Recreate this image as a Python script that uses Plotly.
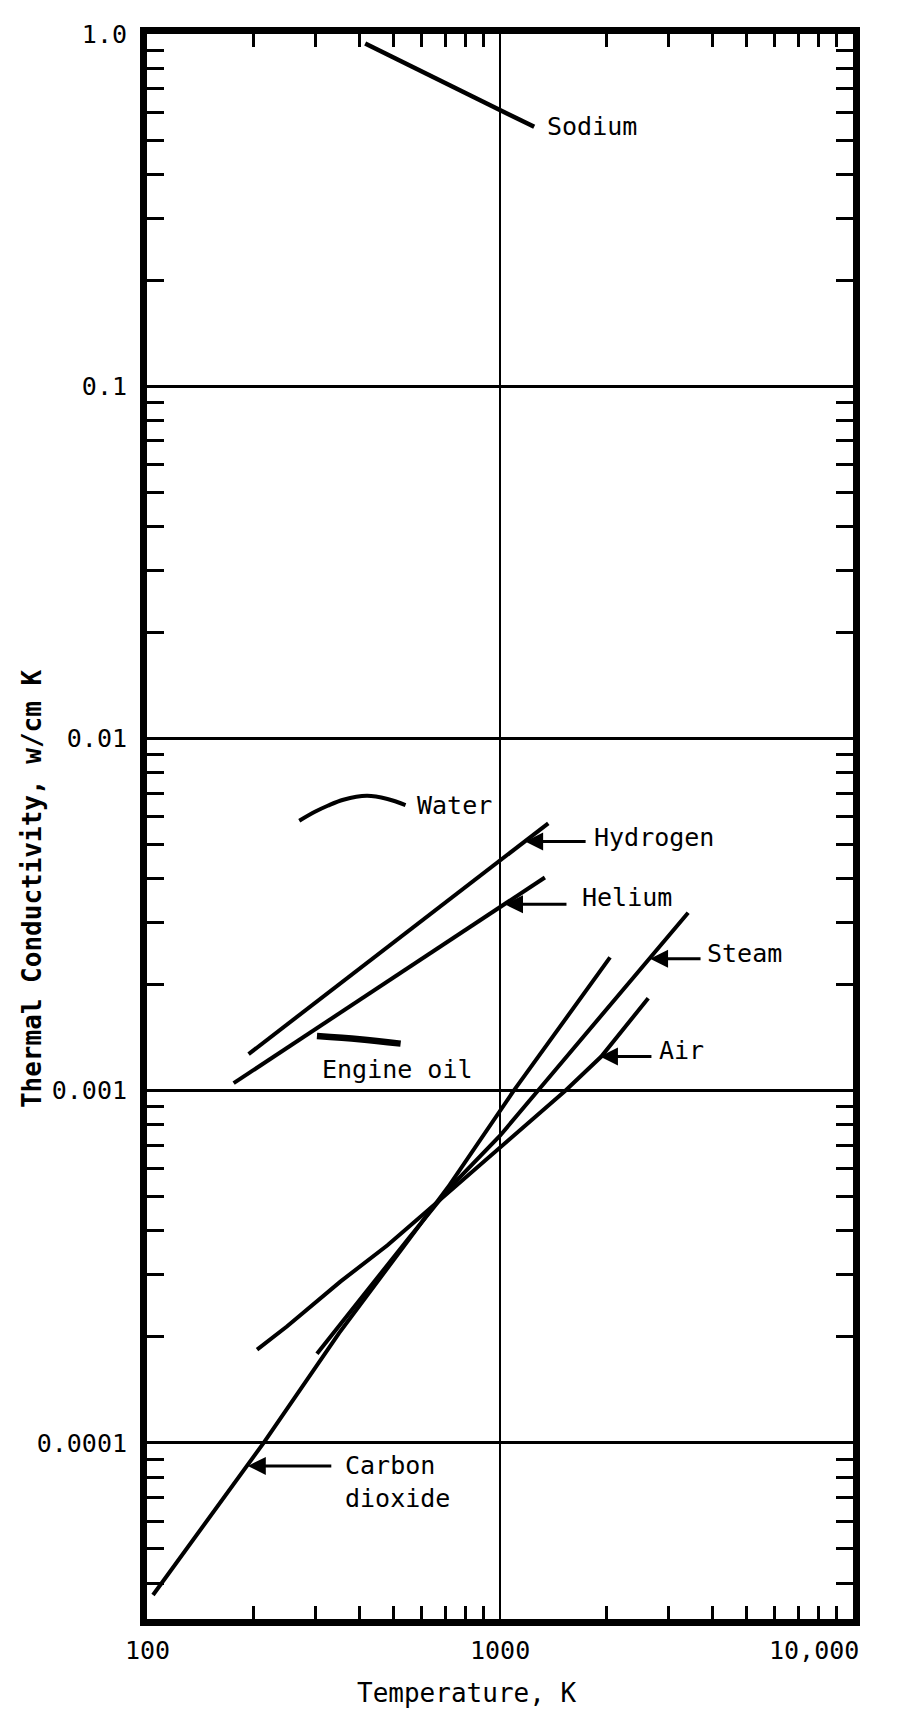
import numpy as np
import plotly.graph_objects as go

# ---------------- data ----------------
T_sodium = [415, 700, 1000, 1250]
k_sodium = [0.94, 0.726, 0.61, 0.545]

T_water = [270, 300, 325, 360, 420, 480, 540]
k_water = [0.00584, 0.0062, 0.00644, 0.0067, 0.00687, 0.00673, 0.00647]

T_hydrogen = [194, 400, 700, 1000, 1370]
k_hydrogen = [0.00127, 0.00222, 0.00342, 0.00452, 0.00574]

T_helium = [176, 400, 700, 1000, 1340]
k_helium = [0.00105, 0.00181, 0.00262, 0.00331, 0.00403]

T_oil = [303, 400, 523]
k_oil = [0.00143, 0.0014, 0.00136]

T_co2 = [104, 214, 350, 720, 1094, 2050]
k_co2 = [3.7e-5, 1.0e-4, 2.05e-4, 5.4e-4, 1.0e-3, 2.39e-3]

T_steam = [303, 400, 550, 720, 1000, 1280, 2630, 3412]
k_steam = [0.000179, 0.000255, 0.00038, 0.00053, 0.000745, 0.001, 0.00235, 0.0032]

T_air = [205, 249, 353, 480, 610, 1000, 1531, 1936, 2630]
k_air = [0.000184, 0.000214, 0.000287, 0.000364, 0.000448, 0.00069, 0.001, 0.00125, 0.00183]

x_tick_vals = [100, 1000, 10000]
x_tick_text = ["100", "1000", "10,000"]
y_tick_vals = [0.0001, 0.001, 0.01, 0.1, 1.0]
y_tick_text = ["0.0001", "0.001", "0.01", "0.1", "1.0"]

# ---------------- figure ----------------
FONT = "DejaVu Sans Mono"
fig = go.Figure()

series = [
    (T_sodium, k_sodium, 4.5, "linear"),
    (T_water, k_water, 4, "spline"),
    (T_hydrogen, k_hydrogen, 4, "linear"),
    (T_helium, k_helium, 4, "linear"),
    (T_oil, k_oil, 6.5, "spline"),
    (T_co2, k_co2, 4, "linear"),
    (T_steam, k_steam, 4, "linear"),
    (T_air, k_air, 4, "linear"),
]
for xs, ys, w, shape in series:
    fig.add_trace(go.Scatter(x=xs, y=ys, mode="lines",
                             line=dict(color="black", width=w, shape=shape),
                             showlegend=False, hoverinfo="skip"))

def minor_vals(decades):
    out = []
    for d in decades:
        out += [m * d for m in range(2, 10)]
    return out

fig.update_xaxes(
    type="log", range=[2, 4],
    showline=True, linewidth=7, linecolor="black", mirror="allticks",
    tickmode="array", tickvals=x_tick_vals, ticks="",
    showticklabels=False,
    showgrid=True, gridcolor="black", gridwidth=1.5,
    zeroline=False,
    minor=dict(tickmode="array", tickvals=minor_vals([100, 1000]),
               ticks="inside", ticklen=13, tickwidth=2.5, tickcolor="black",
               showgrid=False),
)
fig.update_yaxes(
    type="log", range=[-4.5, 0],
    showline=True, linewidth=7, linecolor="black", mirror="allticks",
    tickmode="array", tickvals=y_tick_vals, ticktext=y_tick_text, ticks="",
    tickfont=dict(family=FONT, size=25, color="black"),
    ticklabelstandoff=8,
    showgrid=True, gridcolor="black", gridwidth=2.5,
    zeroline=False,
    minor=dict(tickmode="array", tickvals=minor_vals([1e-5, 1e-4, 1e-3, 1e-2, 1e-1]),
               ticks="inside", ticklen=17, tickwidth=3, tickcolor="black",
               showgrid=False),
)

annotations = []
# x tick labels
for v, t in zip(x_tick_vals, x_tick_text):
    last = v == x_tick_vals[-1]
    annotations.append(dict(x=np.log10(v), y=0, xref="x", yref="paper", text=t,
                            showarrow=False, xanchor="right" if last else "center",
                            yanchor="middle", xshift=8 if last else 0, yshift=-31,
                            font=dict(family=FONT, size=25, color="black")))

# axis titles
annotations.append(dict(x=0.453, y=0, xref="paper", yref="paper", text="Temperature, K",
                        showarrow=False, xanchor="center", yanchor="middle", yshift=-74,
                        font=dict(family=FONT, size=26, color="black")))
annotations.append(dict(x=0, y=0.4605, xref="paper", yref="paper",
                        text="<b>Thermal Conductivity, w/cm K</b>", textangle=-90,
                        showarrow=False, xanchor="center", yanchor="middle", xshift=-115,
                        font=dict(family=FONT, size=26, color="black")))

# curve labels (anchor at left-middle of text)
labels = [
    ("Sodium", 1341, 0.546),
    ("Water", 574, 0.00647),
    ("Hydrogen", 1823, 0.00525),
    ("Helium", 1685, 0.00353),
    ("Steam", 3811, 0.002455),
    ("Air", 2785, 0.0013),
    ("Engine oil", 309, 0.001146),
    ("Carbon<br>dioxide", 359, 7.76e-5),
]
for text, tx, ty in labels:
    annotations.append(dict(x=np.log10(tx), y=np.log10(ty), xref="x", yref="y", text=text,
                            showarrow=False, xanchor="left", yanchor="middle", align="left",
                            font=dict(family=FONT, size=25, color="black")))

# pointer arrows (tip on the curve, tail to the right)
arrows = [
    (1178, 0.0051, 62),
    (1033, 0.00338, 63),
    (2661, 0.00237, 52),
    (1919, 0.00125, 53),
    (193, 8.6e-5, 85),
]
for ax_T, ax_k, dx in arrows:
    annotations.append(dict(x=np.log10(ax_T), y=np.log10(ax_k), xref="x", yref="y", text="",
                            showarrow=True, ax=dx, ay=0, arrowhead=2, arrowsize=1.2,
                            arrowwidth=3, arrowcolor="black", standoff=0))

# the page body adds an 8px margin, so the figure is 8px smaller than the window
fig.update_layout(
    width=898, height=1702,
    margin=dict(l=139, r=53, t=18, b=91),
    paper_bgcolor="white", plot_bgcolor="white",
    annotations=annotations,
    showlegend=False,
)

fig.write_html("out.html")
